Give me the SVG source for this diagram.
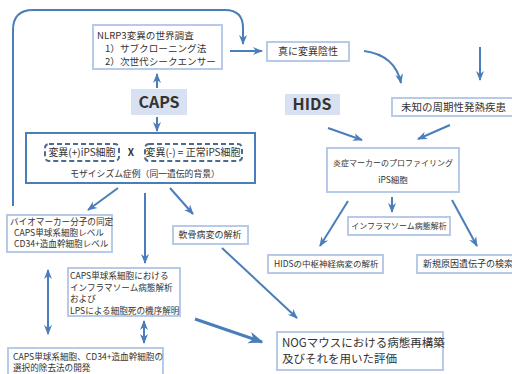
<svg xmlns="http://www.w3.org/2000/svg" width="512" height="374" viewBox="0 0 512 374">
<style>
.t{font-family:"Noto Sans CJK JP","Noto Sans",sans-serif;fill:#333}
.b{fill:#fff;stroke:#b7cbe8;stroke-width:2}
.f{fill:#d7e1f1;stroke:none}
.c{fill:none;stroke:#4a7ebb;stroke-width:2}
.d{fill:none;stroke:#4d6a91;stroke-width:2;stroke-dasharray:5 3}
</style>
<defs>
<marker id="a" viewBox="0 0 10 10" refX="9" refY="5" markerWidth="5" markerHeight="5" orient="auto-start-reverse"><path d="M0,1 L10,5 L0,9 L3,5z" fill="#4a7ebb"/></marker>
</defs>
<g id="connectors">
<path class="c" d="M13,206 V30 Q13,10 33,10 H225 Q243,10 243,28 V44" marker-end="url(#a)"/>
<path class="c" d="M230,51 H262" marker-end="url(#a)"/>
<path class="c" d="M157,88 V74" marker-end="url(#a)"/>
<path class="c" d="M157,117 V131" marker-end="url(#a)"/>
<path class="c" d="M364,51 Q395,55 401,83" marker-end="url(#a)"/>
<path class="c" d="M480,47 V80" marker-end="url(#a)"/>
<path class="c" d="M328,128 L362,140" marker-end="url(#a)"/>
<path class="c" d="M450,125 L418,139" marker-end="url(#a)"/>
<path class="c" d="M118,188 L88,210" marker-end="url(#a)"/>
<path class="c" d="M145,193 V263" marker-end="url(#a)"/>
<path class="c" d="M170,188 L193,214" marker-end="url(#a)"/>
<path class="c" d="M348,201 L320,246" marker-end="url(#a)"/>
<path class="c" d="M392,197 V212" marker-end="url(#a)"/>
<path class="c" d="M452,200 L477,246" marker-end="url(#a)"/>
<path class="c" d="M48,270 V334" marker-start="url(#a)" marker-end="url(#a)"/>
<path class="c" d="M144,321 V343" marker-start="url(#a)" marker-end="url(#a)"/>
<path class="c" d="M195,319 L262,342" style="stroke-width:3" marker-end="url(#a)"/>
<path class="c" d="M222,248 L297,318" marker-end="url(#a)"/>
</g>
<g id="nlrp3">
<rect class="b" x="93" y="25" width="129" height="44"/>
<text class="t" font-size="9.6" x="97" y="38.5">NLRP3変異の世界調査</text>
<text class="t" font-size="9.6" x="105" y="51.5">1）サブクローニング法</text>
<text class="t" font-size="9.6" x="105" y="64.5">2）次世代シークエンサー</text>
</g>
<g id="shin">
<rect class="b" x="267" y="42" width="82" height="19"/>
<text class="t" font-size="10" x="308" y="55" text-anchor="middle">真に変異陰性</text>
</g>
<g id="caps">
<rect class="f" x="131" y="89" width="56" height="26"/>
<text class="t" font-size="16" font-weight="bold" x="159" y="108" text-anchor="middle">CAPS</text>
</g>
<g id="hids">
<rect class="f" x="285" y="94" width="55" height="21"/>
<text class="t" font-size="16" font-weight="bold" x="312" y="110" text-anchor="middle">HIDS</text>
</g>
<g id="michi">
<rect class="b" x="392" y="98" width="125" height="18"/>
<text class="t" font-size="10.5" x="401" y="111">未知の周期性発熱疾患</text>
</g>
<g id="mosaic">
<rect x="26" y="133" width="229" height="50" fill="#fff" stroke="#4a7ebb" stroke-width="2"/>
<rect class="d" x="45" y="144" width="74" height="17" rx="4"/>
<rect class="d" x="145" y="144" width="97" height="17" rx="4"/>
<text class="t" font-size="10" x="82" y="156" text-anchor="middle">変異(+)iPS細胞</text>
<text class="t" font-size="10" font-weight="bold" x="131" y="156" text-anchor="middle">X</text>
<text class="t" font-size="10" x="193" y="156" text-anchor="middle">変異(-) = 正常iPS細胞</text>
<text class="t" font-size="8.8" x="145" y="177" text-anchor="middle">モザイシズム症例（同一遺伝的背景）</text>
</g>
<g id="biomarker">
<rect class="b" x="7" y="215" width="105" height="37"/>
<text class="t" font-size="8.6" x="10" y="225">バイオマーカー分子の同定</text>
<text class="t" font-size="8.6" x="14" y="236">CAPS単球系細胞レベル</text>
<text class="t" font-size="8.6" x="14" y="247">CD34+造血幹細胞レベル</text>
</g>
<g id="nankotsu">
<rect class="b" x="173" y="226" width="75" height="18"/>
<text class="t" font-size="9" x="210" y="238" text-anchor="middle">軟骨病変の解析</text>
</g>
<g id="inflammasome-caps">
<rect class="b" x="68" y="268" width="112" height="48"/>
<text class="t" font-size="8.6" x="70" y="279">CAPS単球系細胞における</text>
<text class="t" font-size="8.6" x="70" y="291">インフラマソーム病態解析</text>
<text class="t" font-size="8.6" x="70" y="302">および</text>
<text class="t" font-size="8.6" x="70" y="314">LPSによる細胞死の機序解明</text>
</g>
<g id="jokyo">
<rect class="b" x="8" y="348" width="155" height="30"/>
<text class="t" font-size="8.6" x="13" y="360">CAPS単球系細胞、CD34+造血幹細胞の</text>
<text class="t" font-size="8.6" x="13" y="371">選択的除去法の開発</text>
</g>
<g id="enshou">
<rect class="b" x="327" y="148" width="132" height="44"/>
<text class="t" font-size="8" x="393" y="166" text-anchor="middle">炎症マーカーのプロファイリング</text>
<text class="t" font-size="8.5" x="393" y="183" text-anchor="middle">iPS細胞</text>
</g>
<g id="inflammasome-hids">
<rect class="b" x="348" y="217" width="102" height="18"/>
<text class="t" font-size="8" x="399" y="229" text-anchor="middle">インフラマソーム病態解析</text>
</g>
<g id="chusu">
<rect class="b" x="268" y="255" width="115" height="18"/>
<text class="t" font-size="8.5" x="274" y="267">HIDSの中枢神経病変の解析</text>
</g>
<g id="shinki">
<rect class="b" x="417" y="255" width="100" height="18"/>
<text class="t" font-size="9" x="423" y="267">新規原因遺伝子の検索</text>
</g>
<g id="nog">
<rect class="b" x="277" y="332" width="166" height="38"/>
<text class="t" font-size="11.5" x="282" y="347">NOGマウスにおける病態再構築</text>
<text class="t" font-size="11.5" x="282" y="363">及びそれを用いた評価</text>
</g>
</svg>
